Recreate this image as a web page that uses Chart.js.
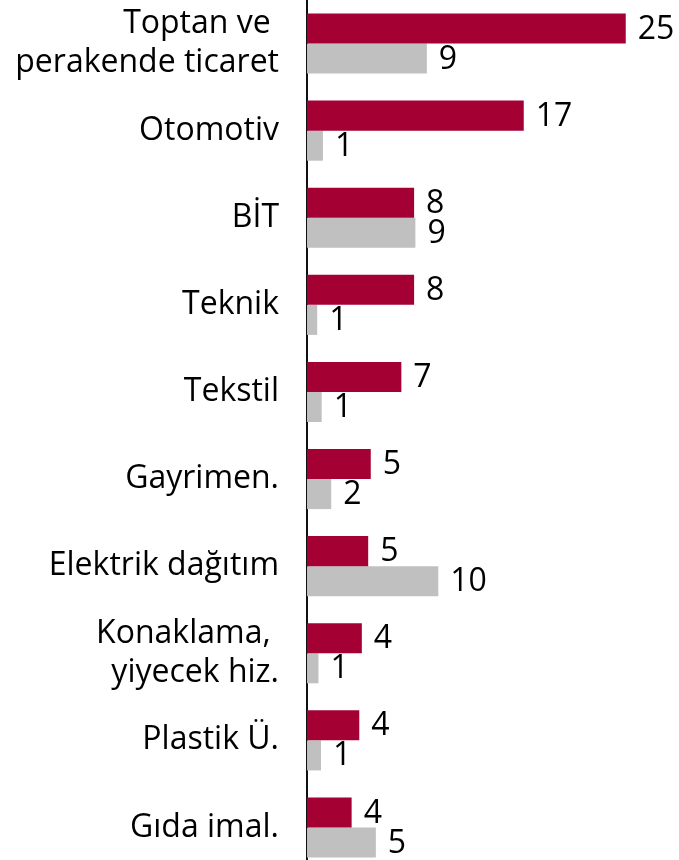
<!DOCTYPE html>
<html>
<head>
<meta charset="utf-8">
<script src="https://cdn.jsdelivr.net/npm/chart.js@4"></script>
<style>
  html, body { margin: 0; padding: 0; background: #fff; overflow: hidden; }
  #wrap { position: relative; width: 679px; height: 871px; }
</style>
</head>
<body>
<div id="wrap"><canvas id="sektorChart"></canvas></div>
<script>
// Kategoriler (sektörler)
const categories = [
  ['Toptan ve ', 'perakende ticaret'],
  'Otomotiv',
  'BİT',
  'Teknik',
  'Tekstil',
  'Gayrimen.',
  'Elektrik dağıtım',
  ['Konaklama, ', 'yiyecek hiz.'],
  'Plastik Ü.',
  'Gıda imal.'
];

// Seri değerleri (çubuk uzunluklarından okunan)
const redValues = [25.0, 17.0, 8.4, 8.4, 7.4, 5.0, 4.8, 4.3, 4.1, 3.5];
const grayValues = [9.4, 1.25, 8.5, 0.8, 1.15, 1.9, 10.3, 0.9, 1.1, 5.4];

const redColor = '#A50034';
const grayColor = '#C0C0C0';
const fontFamily = '"Open Sans", "Noto Sans", sans-serif';

// Çubuk sonuna değer yazan küçük eklenti
const valueLabels = {
  id: 'valueLabels',
  afterDatasetsDraw(chart) {
    const ctx = chart.ctx;
    ctx.save();
    ctx.font = '32px ' + fontFamily;
    ctx.fillStyle = '#000';
    ctx.textAlign = 'left';
    ctx.textBaseline = 'middle';
    chart.data.datasets.forEach((ds, i) => {
      const meta = chart.getDatasetMeta(i);
      meta.data.forEach((bar, j) => {
        ctx.fillText(String(Math.round(ds.data[j])), bar.x + 12, bar.y + 1);
      });
    });
    ctx.restore();
  }
};

const ctx = document.getElementById('sektorChart').getContext('2d');
new Chart(ctx, {
  type: 'bar',
  data: {
    labels: categories,
    datasets: [
      { data: redValues, backgroundColor: redColor, categoryPercentage: 0.69, barPercentage: 1.0 },
      { data: grayValues, backgroundColor: grayColor, categoryPercentage: 0.69, barPercentage: 1.0 }
    ]
  },
  options: {
    indexAxis: 'y',
    responsive: true,
    maintainAspectRatio: false,
    animation: false,
    layout: { padding: { top: 0, bottom: 0, left: 0, right: 15 } },
    plugins: {
      legend: { display: false },
      tooltip: { enabled: false }
    },
    scales: {
      x: {
        display: false,
        min: 0,
        max: 28
      },
      y: {
        afterFit: function(scale) {
          scale.width = 307;
          scale.paddingTop = 0;
          scale.paddingBottom = 0;
        },
        grid: { display: false, drawTicks: false },
        border: { display: true, color: '#111', width: 2 },
        ticks: {
          color: '#000',
          padding: 28,
          font: { family: fontFamily, size: 32, lineHeight: 1.2 }
        }
      }
    }
  },
  plugins: [valueLabels]
});
</script>
</body>
</html>
